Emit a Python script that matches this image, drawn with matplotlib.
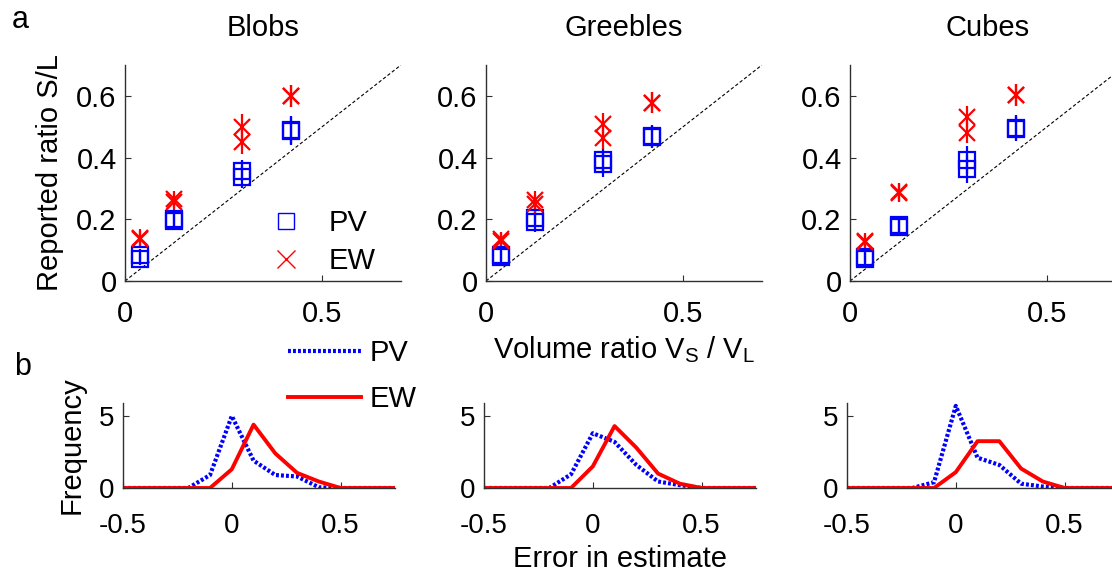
import matplotlib
matplotlib.use('Agg')
import matplotlib.pyplot as plt
from matplotlib.lines import Line2D

plt.rcParams['font.family'] = ['Liberation Sans', 'DejaVu Sans']
plt.rcParams['mathtext.fontset'] = 'custom'
plt.rcParams['mathtext.rm'] = 'Liberation Sans'

# ---- data ----
titles = ['Blobs', 'Greebles', 'Cubes']
vol_ratio = [0.037, 0.125, 0.296, 0.422]   # V_S / V_L

# reported ratio, two estimates per volume ratio
pv_a = [[0.072, 0.195, 0.358, 0.485], [0.078, 0.190, 0.392, 0.466], [0.072, 0.175, 0.393, 0.494]]
pv_b = [[0.085, 0.200, 0.337, 0.490], [0.084, 0.205, 0.378, 0.470], [0.078, 0.182, 0.362, 0.497]]
pv_err = [[0.02, 0.03, 0.035, 0.045], [0.02, 0.03, 0.04, 0.035], [0.02, 0.03, 0.045, 0.04]]
ew_a = [[0.135, 0.255, 0.500, 0.600], [0.130, 0.250, 0.508, 0.578], [0.125, 0.285, 0.531, 0.602]]
ew_b = [[0.140, 0.265, 0.450, 0.600], [0.135, 0.262, 0.462, 0.578], [0.130, 0.288, 0.481, 0.602]]
ew_err = [[0.027, 0.027, 0.04, 0.036], [0.025, 0.03, 0.035, 0.035], [0.025, 0.03, 0.035, 0.035]]

# histogram of errors
err_bins = [-0.5, -0.4, -0.3, -0.2, -0.1, 0.0, 0.1, 0.2, 0.3, 0.4, 0.5, 0.6, 0.7, 0.8]
pv_freq = [[0, 0, 0, 0, 0.9, 5.0, 1.9, 0.9, 0.8, 0.05, 0, 0, 0, 0],
           [0, 0, 0, 0, 0.95, 3.8, 3.2, 1.6, 0.45, 0.2, 0, 0, 0, 0],
           [0, 0, 0, 0, 0.4, 5.7, 2.1, 1.6, 0.3, 0.1, 0, 0, 0, 0]]
ew_freq = [[0, 0, 0, 0, 0, 1.3, 4.4, 2.4, 1.05, 0.45, 0, 0, 0, 0],
           [0, 0, 0, 0, 0, 1.5, 4.3, 2.8, 1.0, 0.3, 0, 0, 0, 0],
           [0, 0, 0, 0, 0, 1.1, 3.25, 3.25, 1.35, 0.45, 0, 0, 0, 0]]

W, H = 1112, 575
fig = plt.figure(figsize=(W / 100, H / 100), dpi=100)

top_left = [125, 486, 850]
bot_left = [123, 484, 847]
spine_col = '#303030'


def style(ax, fs, xpad):
    for s in ['top', 'right']:
        ax.spines[s].set_visible(False)
    for s in ['left', 'bottom']:
        ax.spines[s].set_color(spine_col)
        ax.spines[s].set_linewidth(1.0)
    ax.tick_params(direction='in', length=4, width=0.8, color=spine_col, labelsize=fs, pad=6)
    ax.tick_params(axis='x', pad=xpad)


for i in range(3):
    ax = fig.add_axes([top_left[i] / W, 1 - 281 / H, 276 / W, 216 / H])
    ax.plot([0, 0.7], [0, 0.7], '--', color='k', lw=0.8, dashes=(3, 2))
    for yy in (pv_a[i], pv_b[i]):
        ax.errorbar(vol_ratio, yy, yerr=pv_err[i], fmt='s', ms=11, mfc='none', mec='#0000ff',
                    mew=1.6, ecolor='#0000ff', elinewidth=1.6, capsize=0)
    for yy in (ew_a[i], ew_b[i]):
        ax.errorbar(vol_ratio, yy, yerr=ew_err[i], fmt='x', ms=11, mec='#ff0000',
                    mew=1.6, ecolor='#ff0000', elinewidth=1.6, capsize=0)
    ax.set_xlim(0, 0.7)
    ax.set_ylim(0, 0.7)
    ax.set_xticks([0, 0.5])
    ax.set_xticklabels(['0', '0.5'])
    ax.set_yticks([0, 0.2, 0.4, 0.6])
    ax.set_yticklabels(['0', '0.2', '0.4', '0.6'])
    style(ax, 21, 14)
    ax.set_title(titles[i], fontsize=21, pad=21)
    if i == 0:
        ax.set_ylabel('Reported ratio S/L', fontsize=21, labelpad=9)
        hs = [Line2D([], [], ls='none', marker='s', ms=12, mfc='none', mec='#0000ff', mew=1.0),
              Line2D([], [], ls='none', marker='x', ms=13, mec='#ff0000', mew=1.0)]
        ax.legend(hs, ['PV', 'EW'], loc='lower right', bbox_to_anchor=(0.96, -0.04), frameon=False,
                  fontsize=21, handletextpad=0.45, labelspacing=0.35, borderpad=0)
    if i == 1:
        ax.set_xlabel(r'Volume ratio V$_\mathregular{S}$ / V$_\mathregular{L}$', fontsize=21, labelpad=4)

for i in range(3):
    ax = fig.add_axes([bot_left[i] / W, 1 - 488 / H, 272 / W, 85 / H])
    l1, = ax.plot(err_bins, pv_freq[i], color='#0000ff', lw=3, ls=(0, (0.7, 0.5)))
    l2, = ax.plot(err_bins, ew_freq[i], color='#ff0000', lw=2.8)
    ax.set_xlim(-0.5, 0.75)
    ax.set_ylim(0, 5.9)
    ax.set_xticks([-0.5, 0, 0.5])
    ax.set_xticklabels(['-0.5', '0', '0.5'])
    ax.set_yticks([0, 5])
    ax.set_yticklabels(['0', '5'])
    style(ax, 20, 18)
    if i == 0:
        ax.set_ylabel('Frequency', fontsize=21, labelpad=10)
        ax.legend([l1, l2], ['PV', 'EW'], loc='lower left', bbox_to_anchor=(0.552, 0.71), frameon=False,
                  fontsize=21, handlelength=2.5, handletextpad=0.3, labelspacing=0.62, borderpad=0)
    if i == 1:
        ax.set_xlabel('Error in estimate', fontsize=21, labelpad=4)

fig.text(20 / W, 1 - 20 / H, 'a', fontsize=22, ha='center', va='center')
fig.text(23 / W, 1 - 367 / H, 'b', fontsize=22, ha='center', va='center')

fig.savefig('out.png', dpi=100)
